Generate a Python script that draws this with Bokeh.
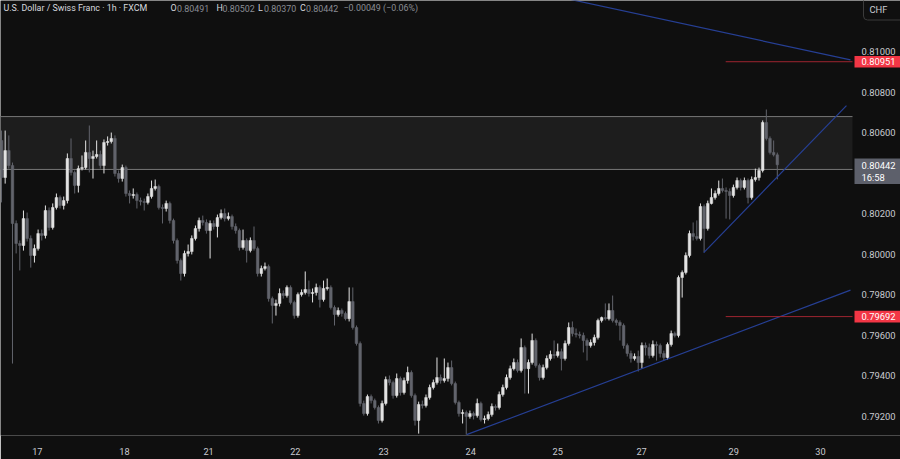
from bokeh.plotting import figure
from bokeh.models import (ColumnDataSource, Range1d, LinearAxis, FixedTicker, Label)
from bokeh.embed import file_html
from bokeh.resources import INLINE
from bokeh.core.properties import value

# ---------------- data (USD/CHF, 1h candles) ----------------
first_open = 0.80562
close = [0.80379,0.80512,0.80438,0.80152,0.80053,0.80043,0.80176,0.80078,0.79994,0.80028,
0.80102,0.80093,0.80216,0.80132,0.80231,0.80280,0.80241,0.80265,0.80473,0.80404,
0.80340,0.80423,0.80428,0.80503,0.80473,0.80483,0.80493,0.80438,0.80552,0.80557,
0.80572,0.80399,0.80374,0.80428,0.80300,0.80290,0.80295,0.80265,0.80260,0.80256,
0.80285,0.80325,0.80335,0.80231,0.80226,0.80251,0.80167,0.80068,0.79969,0.79905,
0.80004,0.80013,0.80078,0.80127,0.80167,0.80157,0.80117,0.80152,0.80137,0.80181,
0.80201,0.80176,0.80186,0.80137,0.80117,0.80033,0.80068,0.80018,0.80068,0.80028,
0.79905,0.79930,0.79939,0.79781,0.79747,0.79757,0.79806,0.79796,0.79836,0.79762,
0.79697,0.79801,0.79811,0.79826,0.79806,0.79811,0.79836,0.79776,0.79831,0.79836,
0.79737,0.79702,0.79722,0.79707,0.79682,0.79766,0.79638,0.79559,0.79263,0.79213,
0.79297,0.79277,0.79243,0.79179,0.79263,0.79381,0.79366,0.79302,0.79386,0.79317,
0.79376,0.79416,0.79302,0.79179,0.79258,0.79253,0.79292,0.79342,0.79366,0.79391,
0.79376,0.79386,0.79440,0.79361,0.79268,0.79213,0.79218,0.79198,0.79213,0.79203,
0.79263,0.79184,0.79188,0.79208,0.79248,0.79243,0.79307,0.79342,0.79391,0.79435,
0.79465,0.79426,0.79539,0.79435,0.79465,0.79574,0.79450,0.79391,0.79440,0.79485,
0.79505,0.79500,0.79519,0.79485,0.79559,0.79638,0.79608,0.79603,0.79599,0.79574,
0.79549,0.79564,0.79589,0.79673,0.79687,0.79682,0.79722,0.79673,0.79663,0.79648,
0.79549,0.79510,0.79485,0.79495,0.79465,0.79549,0.79539,0.79500,0.79554,0.79549,
0.79510,0.79490,0.79554,0.79608,0.79599,0.79885,0.79910,0.79994,0.80102,0.80088,
0.80078,0.80236,0.80127,0.80251,0.80280,0.80300,0.80325,0.80315,0.80310,0.80290,
0.80330,0.80364,0.80330,0.80364,0.80280,0.80369,0.80379,0.80414,0.80651,0.80572,
0.80503,0.80491,0.80442]
high = [0.80611,0.80611,0.80587,0.80453,0.80167,0.80068,0.80216,0.80206,0.80093,0.80048,
0.80122,0.80122,0.80241,0.80231,0.80251,0.80300,0.80290,0.80285,0.80498,0.80572,
0.80414,0.80438,0.80488,0.80562,0.80636,0.80512,0.80562,0.80512,0.80567,0.80582,
0.80601,0.80587,0.80414,0.80443,0.80438,0.80315,0.80325,0.80305,0.80280,0.80275,
0.80300,0.80364,0.80369,0.80344,0.80246,0.80265,0.80260,0.80176,0.80078,0.79979,
0.80018,0.80048,0.80093,0.80142,0.80181,0.80191,0.80172,0.80167,0.80167,0.80196,
0.80221,0.80226,0.80206,0.80196,0.80152,0.80127,0.80122,0.80078,0.80083,0.80137,
0.80038,0.79944,0.79959,0.79949,0.79791,0.79776,0.79831,0.79821,0.79846,0.79846,
0.79771,0.79811,0.79826,0.79915,0.79870,0.79831,0.79855,0.79846,0.79870,0.79880,
0.79846,0.79747,0.79737,0.79732,0.79717,0.79836,0.79836,0.79648,0.79569,0.79277,
0.79307,0.79307,0.79287,0.79253,0.79277,0.79396,0.79401,0.79376,0.79411,0.79396,
0.79391,0.79445,0.79426,0.79312,0.79272,0.79277,0.79307,0.79356,0.79381,0.79490,
0.79406,0.79485,0.79465,0.79475,0.79371,0.79277,0.79233,0.79228,0.79228,0.79223,
0.79287,0.79272,0.79203,0.79223,0.79263,0.79258,0.79322,0.79356,0.79406,0.79450,
0.79485,0.79480,0.79584,0.79549,0.79480,0.79608,0.79584,0.79460,0.79455,0.79500,
0.79524,0.79574,0.79559,0.79534,0.79574,0.79663,0.79668,0.79633,0.79618,0.79613,
0.79584,0.79579,0.79603,0.79682,0.79692,0.79757,0.79757,0.79796,0.79682,0.79673,
0.79658,0.79559,0.79524,0.79510,0.79524,0.79564,0.79564,0.79559,0.79574,0.79569,
0.79559,0.79524,0.79564,0.79623,0.79618,0.79895,0.79920,0.80009,0.80117,0.80157,
0.80167,0.80251,0.80246,0.80265,0.80325,0.80315,0.80364,0.80374,0.80330,0.80325,
0.80344,0.80379,0.80374,0.80379,0.80374,0.80384,0.80423,0.80428,0.80661,0.80715,
0.80582,0.80562,0.80502]
low = [0.80256,0.80349,0.80423,0.79460,0.80004,0.79920,0.80018,0.80063,0.79934,0.79959,
0.80018,0.80068,0.80078,0.80117,0.80122,0.80221,0.80226,0.80221,0.80251,0.80389,
0.80300,0.80305,0.80414,0.80419,0.80404,0.80374,0.80473,0.80423,0.80399,0.80537,
0.80547,0.80384,0.80354,0.80359,0.80285,0.80251,0.80275,0.80226,0.80241,0.80216,
0.80246,0.80275,0.80315,0.80221,0.80152,0.80211,0.80152,0.80053,0.79954,0.79870,
0.79890,0.79989,0.79999,0.80068,0.80112,0.80142,0.80102,0.79979,0.80122,0.80083,
0.80172,0.80162,0.80167,0.80122,0.80102,0.80018,0.80023,0.79959,0.80009,0.80018,
0.79890,0.79890,0.79920,0.79766,0.79658,0.79697,0.79742,0.79781,0.79786,0.79752,
0.79682,0.79687,0.79791,0.79801,0.79791,0.79762,0.79796,0.79737,0.79766,0.79821,
0.79727,0.79648,0.79692,0.79692,0.79673,0.79668,0.79628,0.79549,0.79248,0.79203,
0.79203,0.79263,0.79233,0.79164,0.79169,0.79253,0.79352,0.79287,0.79292,0.79302,
0.79307,0.79361,0.79292,0.79154,0.79114,0.79238,0.79243,0.79282,0.79332,0.79356,
0.79361,0.79366,0.79371,0.79352,0.79258,0.79198,0.79164,0.79109,0.79188,0.79184,
0.79193,0.79174,0.79164,0.79179,0.79198,0.79228,0.79233,0.79297,0.79332,0.79381,
0.79426,0.79416,0.79416,0.79312,0.79312,0.79455,0.79440,0.79376,0.79381,0.79431,
0.79475,0.79485,0.79490,0.79426,0.79475,0.79549,0.79594,0.79589,0.79584,0.79515,
0.79475,0.79539,0.79549,0.79579,0.79663,0.79673,0.79673,0.79663,0.79648,0.79574,
0.79534,0.79495,0.79465,0.79475,0.79421,0.79435,0.79500,0.79485,0.79490,0.79475,
0.79490,0.79475,0.79480,0.79544,0.79589,0.79589,0.79786,0.79900,0.79984,0.80068,
0.80068,0.80068,0.80009,0.80117,0.80246,0.80270,0.80290,0.80305,0.80176,0.80172,
0.80280,0.80320,0.80315,0.80320,0.80251,0.80270,0.80359,0.80364,0.80404,0.80562,
0.80493,0.80483,0.80370]

# day separators (candle index) and their labels
day_ticks = [9.8, 33.6, 56.6, 80.3, 104.4, 128.2, 152.0, 174.9, 200.1, 223.8]
day_labels = ["17", "18", "21", "22", "23", "24", "25", "27", "29", "30"]
price_ticks = [0.792, 0.794, 0.796, 0.798, 0.800, 0.802, 0.806, 0.808, 0.810]

# drawings
zone_bottom, zone_top = 0.80419, 0.80680
level_res, level_sup, level_start = 0.80951, 0.79692, 197.9
trend_down_x, trend_down_y = [152.8, 232.0], [0.81269, 0.80960]
trend_up_x, trend_up_y = [127.1, 232.0], [0.79109, 0.79823]
trend_short_x, trend_short_y = [191.9, 230.9], [0.80008, 0.80734]

last_price, countdown = 0.80442, "16:58"

# ---------------- figure ----------------
BG = "#0f0f0f"
UP, DOWN = "#e3e3e3", "#62646c"
TXT = "#c9cbd1"
FONT = "Roboto"

W, H = 900, 459
FRAME_H = 435              # price pane height; below it the time axis
PANE_R = 850               # right edge of the candle pane (price scale beyond)
X0, XP = -0.273, 232.0     # candle index at pixel 0 and at PANE_R
Y0, Y1 = 0.791047, 0.812534

def rx(px):   # pixel column -> candle index
    return X0 + (px / PANE_R) * (XP - X0)

def ry(py):   # pixel row -> price
    return Y1 - (py / FRAME_H) * (Y1 - Y0)

def dy(npx):  # pixel height -> price difference
    return npx * (Y1 - Y0) / FRAME_H

p = figure(width=W, height=H, output_backend="svg", toolbar_location=None,
           x_range=Range1d(X0, rx(W)), y_range=Range1d(Y0, Y1),
           x_axis_location=None, y_axis_location=None, title=None,
           min_border_left=0, min_border_right=0, min_border_top=0,
           min_border_bottom=H - FRAME_H)
p.background_fill_color = BG
p.border_fill_color = BG
p.outline_line_color = None
p.grid.visible = False

XE = rx(852)   # where drawings end (price scale edge)

opens = [first_open] + close[:-1]
n = len(close)
cols = [UP if c >= o else DOWN for o, c in zip(opens, close)]
src = ColumnDataSource(dict(
    x=list(range(n)), open=opens, close=close, high=high, low=low,
    top=[max(o, c) for o, c in zip(opens, close)],
    bottom=[min(o, c) for o, c in zip(opens, close)],
    color=cols))

# zone
p.quad(left=[X0], right=[XE], bottom=[zone_bottom], top=[zone_top],
       fill_color="#1d1d1d", line_color=None)
p.segment(x0=[X0, X0], x1=[XE, XE], y0=[zone_top, zone_bottom],
          y1=[zone_top, zone_bottom], line_color="#777777", line_width=1)

# candles
p.segment(x0="x", x1="x", y0="low", y1="high", color="color", line_width=1, source=src)
p.vbar(x="x", width=0.72, top="top", bottom="bottom", fill_color="color",
       line_color="color", line_width=0.5, source=src)

# trend lines
BLUE = "#263f94"
p.line(trend_down_x, trend_down_y, line_color=BLUE, line_width=1.2)
p.line(trend_up_x, trend_up_y, line_color=BLUE, line_width=1.2)
p.line(trend_short_x, trend_short_y, line_color=BLUE, line_width=1.2)

# levels
RED_LINE = "#9e2530"
p.segment(x0=[level_start, level_start], x1=[XE, XE], y0=[level_res, level_sup],
          y1=[level_res, level_sup], line_color=RED_LINE, line_width=1)

# time axis
xax = LinearAxis(ticker=FixedTicker(ticks=day_ticks),
                 major_label_overrides={t: l for t, l in zip(day_ticks, day_labels)})
xax.axis_line_color = None
xax.major_tick_line_color = None
xax.minor_tick_line_color = None
xax.major_tick_out = 0
xax.major_tick_in = 0
xax.major_label_standoff = 12
xax.major_label_text_color = TXT
xax.major_label_text_font = FONT
xax.major_label_text_font_size = "9.2px"
p.add_layout(xax, "below")

# price scale (right)
TX = rx(861)
p.text(x=[TX] * len(price_ticks), y=price_ticks,
       text=["%.5f" % t for t in price_ticks], text_align="left",
       text_baseline="middle", text_color=TXT, text_font=value(FONT),
       text_font_size="9.4px")

# price tags
TL, TR = rx(854), rx(902)
tag_y = [level_res, level_sup]
p.quad(left=[TL, TL], right=[TR, TR], bottom=[y - dy(5.8) for y in tag_y],
       top=[y + dy(5.8) for y in tag_y], fill_color="#f23645", line_color=None)
p.text(x=[TX, TX], y=tag_y, text=["%.5f" % y for y in tag_y], text_align="left",
       text_baseline="middle", text_color="#ffffff", text_font=value(FONT),
       text_font_size="9.4px")

p.quad(left=[TL], right=[TR], top=[ry(158)], bottom=[ry(183.5)],
       fill_color="#5d606b", line_color=None)
p.text(x=[TX, TX], y=[ry(164.5), ry(176.5)], text=["%.5f" % last_price, countdown],
       text_align="left", text_baseline="middle", text_color="#ffffff",
       text_font=value(FONT), text_font_size="9.4px")

# currency button
p.add_layout(Label(x=rx(863), y=ry(7.5), text="CHF", text_align="left",
                   text_baseline="middle", text_color=TXT, text_font=FONT,
                   text_font_size="9.4px", border_line_color="#3b3b3b",
                   border_line_width=1, border_radius=4,
                   padding=dict(left=6, right=22, top=8, bottom=5)))

# header
hdr = [(3, "U.S. Dollar / Swiss Franc · 1h · FXCM", "#d6d8de"),
       (170, "O", "#d6d8de"), (176.5, "0.80491", "#8a8d94"),
       (216, "H", "#d6d8de"), (222, "0.80502", "#8a8d94"),
       (257.5, "L", "#d6d8de"), (263.5, "0.80370", "#8a8d94"),
       (299.5, "C", "#d6d8de"), (305.5, "0.80442", "#8a8d94"),
       (343, "\u22120.00049 (\u22120.06%)", "#8a8d94")]
for px, t, c in hdr:
    p.add_layout(Label(x=rx(px), y=ry(7.5), text=t, text_align="left",
                       text_baseline="middle", text_color=c,
                       text_font=FONT, text_font_size="8.9px"))

open("out.html", "w").write(file_html(p, INLINE))
